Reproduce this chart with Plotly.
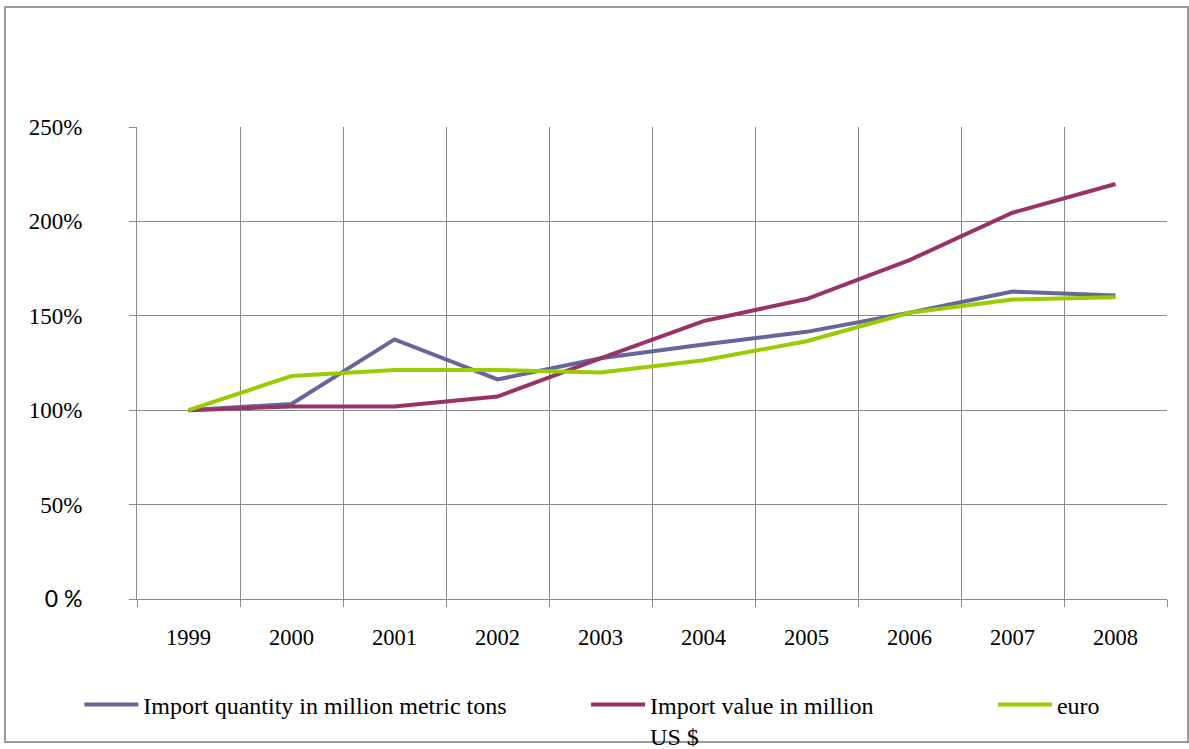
import plotly.graph_objects as go

# Index values (1999 = 100 %)
years = ["1999", "2000", "2001", "2002", "2003", "2004", "2005", "2006", "2007", "2008"]
import_quantity = [100, 103.3, 137.5, 116.3, 127.5, 134.8, 141.5, 151.6, 162.8, 160.8]
import_value = [100, 102.0, 102.0, 107.2, 127.5, 147.2, 158.9, 179.5, 204.6, 219.8]
euro = [100, 118.1, 121.3, 121.3, 120.0, 126.5, 136.5, 151.6, 158.6, 159.8]

y_ticks = [0, 50, 100, 150, 200, 250]
y_ticktext = ['<span style="font-family:Lato">0 %</span>', "50%", "100%", "150%", "200%", "250%"]

series = [
    ("Import quantity in million metric tons", import_quantity, "#666699", "legend"),
    ("Import value in million<br>US $", import_value, "#993366", "legend2"),
    ("euro", euro, "#99CC00", "legend3"),
]

SERIF = "Liberation Serif, Times New Roman, serif"
GRID = "#8a8a8a"

fig = go.Figure()
for name, vals, color, leg in series:
    fig.add_trace(go.Scatter(
        x=years, y=vals, name=name, mode="lines",
        line=dict(color=color, width=4),
        legend=leg,
    ))

legend_common = dict(
    orientation="h", yanchor="top", xanchor="left",
    yref="container", y=0.089,
    font=dict(family=SERIF, size=24, color="#000000"),
    bgcolor="rgba(0,0,0,0)", valign="top", itemwidth=54,
)

fig.update_layout(
    width=1189, height=749,
    margin=dict(l=137, r=22, t=127, b=150, autoexpand=False),
    paper_bgcolor="white", plot_bgcolor="white",
    showlegend=True,
    legend=dict(x=-0.056, **legend_common),
    legend2=dict(x=0.436, **legend_common),
    legend3=dict(x=0.831, **legend_common),
    xaxis=dict(
        type="category", range=[-0.5, 9.5], tickson="boundaries",
        showgrid=True, gridcolor=GRID, gridwidth=1,
        showline=True, linecolor=GRID, linewidth=1,
        ticks="outside", ticklen=7, tickcolor=GRID,
        ticklabelstandoff=18,
        tickfont=dict(family=SERIF, size=22.5, color="#000000"),
        zeroline=False,
    ),
    yaxis=dict(
        range=[0, 250], tickvals=y_ticks, ticktext=y_ticktext,
        showgrid=True, gridcolor=GRID, gridwidth=1,
        showline=True, linecolor=GRID, linewidth=1,
        ticks="outside", ticklen=7, tickcolor=GRID,
        ticklabelstandoff=42,
        tickfont=dict(family=SERIF, size=23, color="#000000"),
        zeroline=False,
    ),
)

# outer chart frame
fig.add_shape(
    type="rect", xref="paper", yref="paper",
    x0=(5 - 137) / 1030, x1=(1188 - 137) / 1030,
    y0=(599 - 742) / 472, y1=(599 - 7) / 472,
    line=dict(color="#9a9a9a", width=2), layer="below",
)

fig.write_html("out.html")
